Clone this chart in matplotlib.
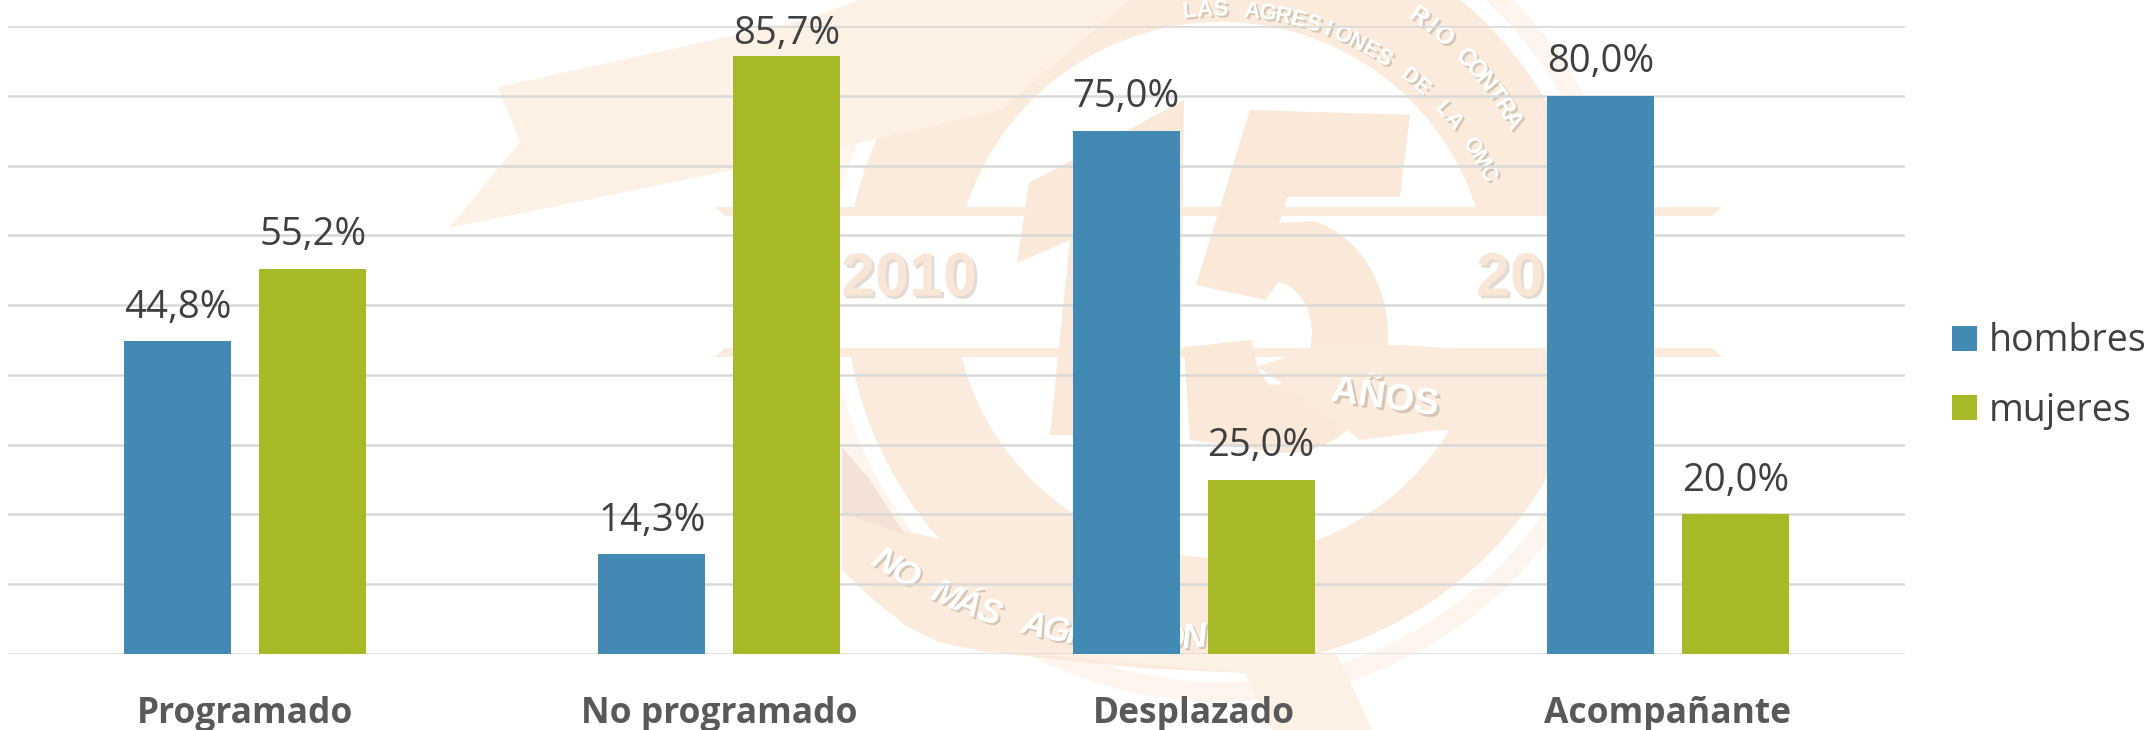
import numpy as np
import matplotlib
matplotlib.use("Agg")
import matplotlib.pyplot as plt
import matplotlib.patheffects as pe
from matplotlib.patches import Polygon, Wedge, Patch

categories = ["Programado", "No programado", "Desplazado", "Acompañante"]
hombres = [44.8, 14.3, 75.0, 80.0]
mujeres = [55.2, 85.7, 25.0, 20.0]
series_names = ["hombres", "mujeres"]

W, H = 2144, 730
BLUE = "#4289B3"
GREEN = "#A7B926"
TAN = "#FBEBDC"
TAN2 = "#FDF1E6"
TAN3 = "#FAE8D8"

plt.rcParams["font.family"] = ["Open Sans", "DejaVu Sans"]

fig = plt.figure(figsize=(W / 100, H / 100), dpi=100, facecolor="white")


def poly(ax, pts, color, z=1):
    ax.add_patch(Polygon(pts, closed=True, fc=color, ec="none", zorder=z))


def arc_text(ax, s, cx, cy, r, start, step, size, top=True, weight="normal", style="normal"):
    # one letter at a time round a circle, angles from straight up
    for i, ch in enumerate(s):
        a = np.radians(start + i * step)
        if top:
            x, y = cx + r * np.sin(a), cy - r * np.cos(a)
        else:
            x, y = cx - r * np.sin(a), cy + r * np.cos(a)
        ax.text(x, y, ch, color="white", fontsize=size, style=style, fontweight=weight, ha="center", va="center",
                rotation=-np.degrees(a), zorder=9, family="Liberation Sans",
                path_effects=[pe.withSimplePatchShadow(offset=(1.5, -1.5), shadow_rgbFace="#B8A898", alpha=0.55)])


# watermark behind the chart, in pixels
bg = fig.add_axes([0, 0, 1, 1], zorder=0)
bg.set_xlim(0, W)
bg.set_ylim(H, 0)
bg.axis("off")

cx, cy = 1221, 290
bg.add_patch(Wedge((cx, cy), 412, 0, 360, width=20, fc="#FEF6EE", ec="none", zorder=1))
bg.add_patch(Wedge((cx, cy), 376, 0, 360, width=108, fc=TAN, ec="none", zorder=2))

# ribbon on the top left
poly(bg, [(498, 87), (804, 20), (860, 0), (1130, 0), (1000, 110), (880, 138), (732, 170), (449, 228), (520, 142)], TAN2, 3)

# lower band and tail
poly(bg, [(842, 513), (900, 530), (974, 547), (1060, 565), (1180, 585), (1215, 640), (1245, 673), (1140, 668),
          (1035, 657), (985, 652), (938, 642), (905, 625), (870, 597), (842, 570)], TAN, 3)
poly(bg, [(842, 447), (870, 480), (905, 535), (842, 513)], "#F5E2D6", 3)
poly(bg, [(1035, 654), (1336, 654), (1345, 670), (1372, 730), (1272, 730), (1245, 673)], TAN2, 3)

# white banner with its two strips
poly(bg, [(715, 207), (1722, 207), (1654, 283), (1722, 357), (715, 357), (757, 283)], "white", 4)
poly(bg, [(715, 207), (1722, 207), (1712, 216), (725, 216)], TAN, 4)
poly(bg, [(725, 348), (1712, 348), (1722, 357), (715, 357)], TAN, 4)

# 15
poly(bg, [(1184, 100), (1029, 183), (1017, 263), (1070, 240), (1050, 435), (1180, 435)], TAN3, 5)
t = np.radians(np.linspace(-75, 95, 24))
bowl = np.column_stack([1288 + 100 * np.cos(t), 335 + 118 * np.sin(t)])
t2 = np.radians(np.linspace(95, -80, 16))
counter = np.column_stack([1272 + 40 * np.cos(t2), 333 + 52 * np.sin(t2)])
five = [(1250, 110), (1410, 115), (1400, 197), (1288, 197), (1279, 223)] + [tuple(p) for p in bowl] + \
       [(1190, 440), (1184, 347), (1252, 340), (1257, 367)] + [tuple(p) for p in counter] + [(1265, 300), (1196, 285)]
poly(bg, five, TAN3, 5)

# ribbon under the 5 with AÑOS
poly(bg, [(1257, 367), (1300, 395), (1360, 440), (1440, 430), (1530, 440), (1545, 390),
          (1505, 405), (1480, 350), (1400, 345), (1320, 345)], TAN, 6)

for s, x0, ha0 in [("2010", 909, "center"), ("20", 1476, "left")]:
    bg.text(x0, 280, s, color="#F8E6D7", fontsize=44, fontweight="bold", ha=ha0, va="center", zorder=7,
            family="Liberation Sans",
            path_effects=[pe.withSimplePatchShadow(offset=(2, -2), shadow_rgbFace="#C8B8A8", alpha=0.5)])
bg.text(1385, 398, "AÑOS", color="white", fontsize=27, fontweight="bold", rotation=-8, ha="center", va="center", zorder=9,
        family="Liberation Sans",
        path_effects=[pe.withSimplePatchShadow(offset=(2, -2), shadow_rgbFace="#B8A898", alpha=0.55)])

arc_text(bg, "RIO CONTRA", cx, cy, 338, 36, 2.65, 18, weight="bold")
arc_text(bg, "LAS AGRESIONES DE LA OMC", cx, 310, 300, -6, 3.0, 16, weight="bold")
arc_text(bg, "NO MÁS AGRESIONES", 1150, 150, 490, 32.6, -2.7, 25, top=False, weight="bold", style="italic")

# the chart itself
ax = fig.add_axes([8 / W, 1 - 654 / H, (1905 - 8) / W, (654 - 26) / H], zorder=1)
ax.patch.set_alpha(0)
x = np.arange(len(categories))
bw = 107 / 474
off = 67.5 / 474
ax.bar(x - off, hombres, bw, color=BLUE, zorder=3)
ax.bar(x + off, mujeres, bw, color=GREEN, zorder=3)

for xs, vals in [(x - off, hombres), (x + off, mujeres)]:
    for xi, v in zip(xs, vals):
        # the tallest label sits closer to its bar, it has no room above
        gap = 9 if v > 85 else 17
        ax.annotate(f"{v:.1f}%".replace(".", ","), (xi, v), xytext=(0, gap), textcoords="offset points",
                    ha="center", va="baseline", fontsize=27.5, color="#404040", zorder=4)

ax.set_xlim(-0.5, 3.5)
ax.set_ylim(0, 90)
ax.set_yticks(np.arange(0, 91, 10))
ax.set_yticklabels([])
ax.yaxis.grid(True, color="#D9D9D9", lw=1.8, zorder=1)
ax.set_axisbelow(True)
ax.tick_params(length=0)
ax.set_xticks(x)
ax.set_xticklabels(categories, fontsize=25.5, fontweight="bold", color="#595959")
ax.tick_params(axis="x", pad=30)
for s in ax.spines.values():
    s.set_visible(False)

handles = [Patch(fc=BLUE, ec="none"), Patch(fc=GREEN, ec="none")]
fig.legend(handles, series_names, loc="center left", bbox_to_anchor=(1952 / W, 1 - 376 / H), frameon=False,
           fontsize=27, labelcolor="#404040", handlelength=0.67, handleheight=0.64, handletextpad=0.32,
           labelspacing=0.83, borderpad=0, borderaxespad=0)

fig.savefig("out.png", dpi=100, facecolor="white")
